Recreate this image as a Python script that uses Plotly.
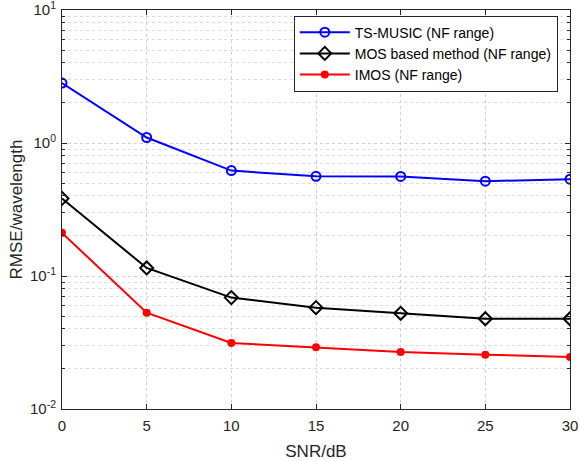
import plotly.graph_objects as go

snr = [0, 5, 10, 15, 20, 25, 30]
ts_music = [2.82, 1.10, 0.62, 0.562, 0.561, 0.516, 0.535]
mos = [0.383, 0.115, 0.0688, 0.0578, 0.0524, 0.0477, 0.0477]
imos = [0.211, 0.053, 0.0314, 0.0291, 0.0268, 0.0256, 0.0246]

names = ["TS-MUSIC (NF range)", "MOS based method (NF range)", "IMOS (NF range)"]
ytickvals = [0.01, 0.1, 1, 10]
yticktext = ["10<sup>-2</sup>", "10<sup>-1</sup>", "10<sup>0</sup>", "10<sup>1</sup>"]
xtickvals = [0, 5, 10, 15, 20, 25, 30]

font = "Liberation Sans, Arial, sans-serif"
axcol = "#262626"

fig = go.Figure()
fig.add_trace(go.Scatter(x=snr, y=ts_music, name=names[0], mode="lines+markers",
                         line=dict(color="#0000ff", width=2),
                         marker=dict(symbol="circle-open", size=9, color="#0000ff",
                                     line=dict(width=2, color="#0000ff"))))
fig.add_trace(go.Scatter(x=snr, y=mos, name=names[1], mode="lines+markers",
                         line=dict(color="#000000", width=2),
                         marker=dict(symbol="diamond-open", size=10, color="#000000",
                                     line=dict(width=2, color="#000000"))))
fig.add_trace(go.Scatter(x=snr, y=imos, name=names[2], mode="lines+markers",
                         line=dict(color="#ff0000", width=2),
                         marker=dict(symbol="circle", size=8, color="#ff0000")))

fig.update_layout(
    width=579, height=461,
    margin=dict(l=62, r=9, t=10, b=52),
    paper_bgcolor="white", plot_bgcolor="white",
    font=dict(family=font, size=15, color=axcol),
    showlegend=True,
    legend=dict(x=0.976, y=0.986, xanchor="right", yanchor="top",
                bgcolor="white", bordercolor=axcol, borderwidth=1,
                font=dict(family=font, size=14, color="#000000"),
                itemwidth=50, tracegroupgap=0),
)
fig.update_xaxes(
    range=[0, 30], tickvals=xtickvals, ticks="inside", ticklen=5,
    tickcolor=axcol, showline=True, linecolor=axcol, linewidth=1,
    mirror="allticks", showgrid=True, gridcolor="#d0d0d0", griddash="dot", gridwidth=1,
    zeroline=False, automargin=False, ticklabeloverflow="allow", ticklabelstandoff=3,
    title=dict(text="SNR/dB", font=dict(family=font, size=17, color=axcol), standoff=14),
    tickfont=dict(family=font, size=15, color=axcol),
)
fig.update_yaxes(
    type="log", range=[-2, 1], tickvals=ytickvals, ticktext=yticktext,
    ticks="inside", ticklen=5, tickcolor=axcol,
    showline=True, linecolor=axcol, linewidth=1, mirror="allticks",
    showgrid=True, gridcolor="#d0d0d0", griddash="dot", gridwidth=1,
    automargin=False, ticklabeloverflow="allow", ticklabelstandoff=2,
    minor=dict(ticks="inside", ticklen=3, tickcolor=axcol, showgrid=True,
               gridcolor="#dcdcdc", griddash="dot", gridwidth=1,
               tickvals=[m * 10 ** e for e in (-2, -1, 0) for m in range(2, 10)]),
    title=dict(text="RMSE/wavelength", font=dict(family=font, size=17, color=axcol), standoff=3),
    tickfont=dict(family=font, size=15, color=axcol),
)

fig.write_html("out.html", config={"displayModeBar": False},
               post_script="document.body.style.margin='0';")
